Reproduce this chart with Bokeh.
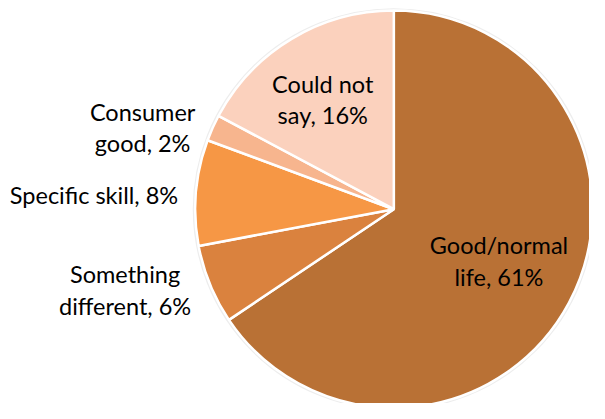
import math
from bokeh.plotting import figure
from bokeh.models import Range1d, ColumnDataSource
from bokeh.core.properties import value
from bokeh.embed import file_html
from bokeh.resources import INLINE

# ---- data ----
categories = ["Good/normal life", "Something different", "Specific skill", "Consumer good", "Could not say"]
values = [61, 6, 8, 2, 16]
labels = ["Good/normal\nlife, 61%", "Something\ndifferent, 6%", "Specific skill, 8%", "Consumer\ngood, 2%", "Could not\nsay, 16%"]
colors = ["#B97135", "#DA823E", "#F69745", "#F7B58E", "#FBD1BD"]

# ---- layout (reference pixel coordinates, y measured downward, plotted as -y) ----
W, H = 589, 403
RW, RH = 605, 419
CX, CY, R = 404, 217, 204
# label centres relative to the pie centre (px, downward y)
label_offsets = [(108, 54), (-276, 84), (-308, -15), (-258, -85), (-73, -114)]

total = float(sum(values))
starts, ends = [], []
acc = 0.0
for v in values:
    a0 = math.pi / 2 - 2 * math.pi * acc / total
    acc += v
    a1 = math.pi / 2 - 2 * math.pi * acc / total
    starts.append(a0)
    ends.append(a1)

src = ColumnDataSource(dict(cat=categories, val=values, start=starts, end=ends, color=colors))

p = figure(width=W, height=H, output_backend="svg", toolbar_location=None,
           x_range=Range1d(0, RW), y_range=Range1d(-RH, 0),
           min_border=0, outline_line_color=None)
p.axis.visible = False
p.grid.visible = False
p.background_fill_color = "white"
p.border_fill_color = "white"

# faint outer edge
p.circle(x=[CX], y=[-CY], radius=R + 1.5, fill_color=None, line_color="#EDEDED", line_width=2)

p.wedge(x=CX, y=-CY, radius=R, start_angle="start", end_angle="end", direction="clock",
        fill_color="color", line_color="white", line_width=2.5, source=src)

lsrc = ColumnDataSource(dict(
    x=[CX + dx for dx, dy in label_offsets],
    y=[-(CY + dy) for dx, dy in label_offsets],
    t=labels))
p.text(x="x", y="y", text="t", source=lsrc, text_align="center", text_baseline="middle",
       text_font=value("Lato"), text_font_size="23.5px", text_color="#000000",
       text_line_height=1.13)

open("out.html", "w").write(file_html(p, INLINE))
